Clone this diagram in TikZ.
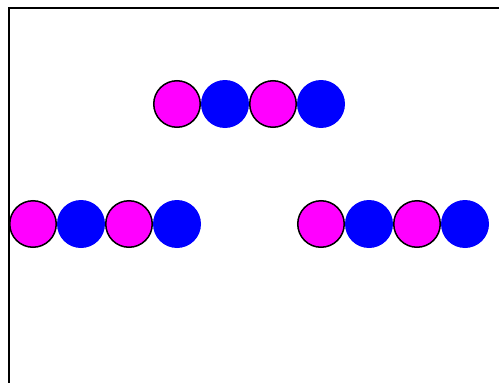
\documentclass[tikz,border=0pt]{standalone}
\usetikzlibrary{positioning}
\definecolor{ballmag}{RGB}{255,0,255}
\definecolor{ballblue}{RGB}{0,0,255}
\begin{document}
\begin{tikzpicture}[
  x=1pt, y=-1pt,
  magball/.style={circle, draw=black, line width=1.5pt, fill=ballmag,
    minimum size=46.5pt, inner sep=0pt, outer sep=0pt},
  blueball/.style={circle, fill=ballblue, minimum size=48pt, inner sep=0pt,
    outer sep=0pt},
  frameline/.style={line width=2pt, black},
]
  \useasboundingbox (0,0) rectangle (499,383);

  % open frame along the left and top
  \coordinate (fbot)    at (8.5,383);
  \coordinate (fcorner) at (8.5,8);
  \coordinate (fright)  at (499,8);
  \draw[frameline] (fbot) -- (fcorner) -- (fright);

  % three chains of alternating balls
  \foreach \row/\x/\y in {t/177/104, l/33/224, r/321/224} {
    \node[magball]  (\row1) at (\x,\y)    {};
    \node[magball]  (\row3) at (\x+96,\y) {};
    \node[blueball] (\row2) at (\x+48,\y) {};
    \node[blueball] (\row4) at (\x+144,\y) {};
  }
\end{tikzpicture}
\end{document}
